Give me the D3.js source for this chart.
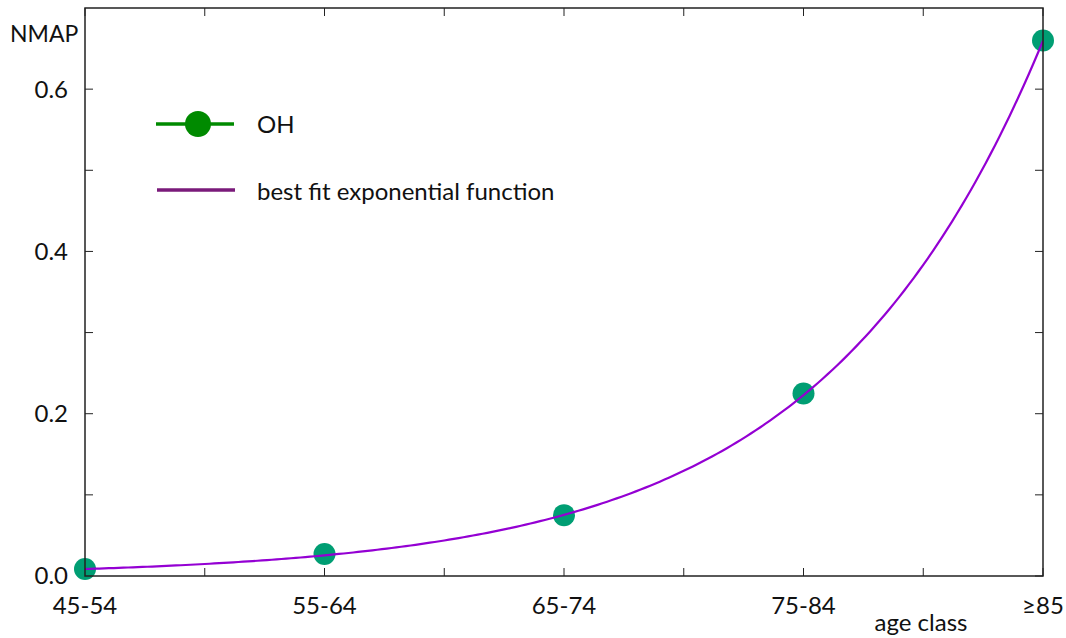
<!DOCTYPE html>
<html lang="en">
<head>
<meta charset="UTF-8">
<title>NMAP by age class</title>
<script src="https://cdn.jsdelivr.net/npm/d3@7"></script>
<style>
  body { margin: 0; background: #fff; }
  text { font-family: Lato, "Open Sans", sans-serif; fill: #111; }
</style>
</head>
<body>
<script>
// age classes on the x axis
const ageClasses = ["45-54", "55-64", "65-74", "75-84", "\u226585"];
// observed NMAP values (OH)
const ohValues = [0.0086, 0.027, 0.075, 0.225, 0.660];
// exponential fit y = a * exp(b * i), i = class index
const fitParams = [0.0086, 1.085];
const yTicks = [0, 0.2, 0.4, 0.6];
const yMinorTicks = [0.1, 0.3, 0.5];

const width = 1066, height = 638;
const margin = {top: 8, right: 23, bottom: 62, left: 85};
const fs = 24;

const x = d3.scaleLinear().domain([0, ageClasses.length - 1])
  .range([margin.left, width - margin.right]);
const y = d3.scaleLinear().domain([0, 0.7])
  .range([height - margin.bottom, margin.top]);

const svg = d3.select("body").append("svg")
  .attr("width", width).attr("height", height);

const xMinor = d3.range(0.5, ageClasses.length - 1, 1);
const tk = 8;

// ticks, all pointing inward (bottom/top/left/right)
const tickG = svg.append("g").attr("stroke", "#222").attr("stroke-width", 1);
[...d3.range(ageClasses.length), ...xMinor].forEach(v => {
  tickG.append("line").attr("x1", x(v)).attr("x2", x(v))
    .attr("y1", y(0)).attr("y2", y(0) - tk);
  tickG.append("line").attr("x1", x(v)).attr("x2", x(v))
    .attr("y1", y(0.7)).attr("y2", y(0.7) + tk);
});
[...yTicks, ...yMinorTicks].forEach(v => {
  tickG.append("line").attr("x1", x(0)).attr("x2", x(0) + tk)
    .attr("y1", y(v)).attr("y2", y(v));
  tickG.append("line").attr("x1", x(4)).attr("x2", x(4) - tk)
    .attr("y1", y(v)).attr("y2", y(v));
});

// y labels
svg.append("g").selectAll("text").data(yTicks).join("text")
  .attr("x", x(0) - 17).attr("y", d => y(d)).attr("dy", "0.35em")
  .attr("text-anchor", "end").attr("font-size", fs)
  .text(d => d3.format(".1f")(d));

// x labels
svg.append("g").selectAll("text").data(ageClasses).join("text")
  .attr("x", (d, i) => x(i)).attr("y", y(0) + 38)
  .attr("text-anchor", "middle").attr("font-size", fs)
  .text(d => d);

svg.append("text").attr("x", 10).attr("y", 42).attr("font-size", 23).text("NMAP");
svg.append("text").attr("x", 921).attr("y", 631).attr("text-anchor", "middle")
  .attr("font-size", fs).text("age class");

// fit curve
const fitFn = i => fitParams[0] * Math.exp(fitParams[1] * i);
const line = d3.line().x(d => x(d)).y(d => y(fitFn(d)));

// points
svg.append("g").selectAll("circle").data(ohValues).join("circle")
  .attr("cx", (d, i) => x(i)).attr("cy", d => y(d)).attr("r", 11)
  .attr("fill", "#009e73");

svg.append("path").datum(d3.range(0, 4.0001, 0.02))
  .attr("d", line).attr("fill", "none")
  .attr("stroke", "#9400d3").attr("stroke-width", 2.2);

// frame
svg.append("rect").attr("x", x(0)).attr("y", y(0.7))
  .attr("width", x(4) - x(0)).attr("height", y(0) - y(0.7))
  .attr("fill", "none").attr("stroke", "#222").attr("stroke-width", 1.5);

// legend
const lg = svg.append("g");
lg.append("line").attr("x1", 156).attr("x2", 234).attr("y1", 124).attr("y2", 124)
  .attr("stroke", "#008a00").attr("stroke-width", 3.5);
lg.append("circle").attr("cx", 198).attr("cy", 124).attr("r", 13).attr("fill", "#008a00");
lg.append("text").attr("x", 257).attr("y", 133).attr("font-size", fs).text("OH");
lg.append("line").attr("x1", 157).attr("x2", 235).attr("y1", 190).attr("y2", 190)
  .attr("stroke", "#7a1a7a").attr("stroke-width", 3.5);
lg.append("text").attr("x", 257).attr("y", 200).attr("font-size", fs)
  .text("best fit exponential function");
</script>
</body>
</html>
